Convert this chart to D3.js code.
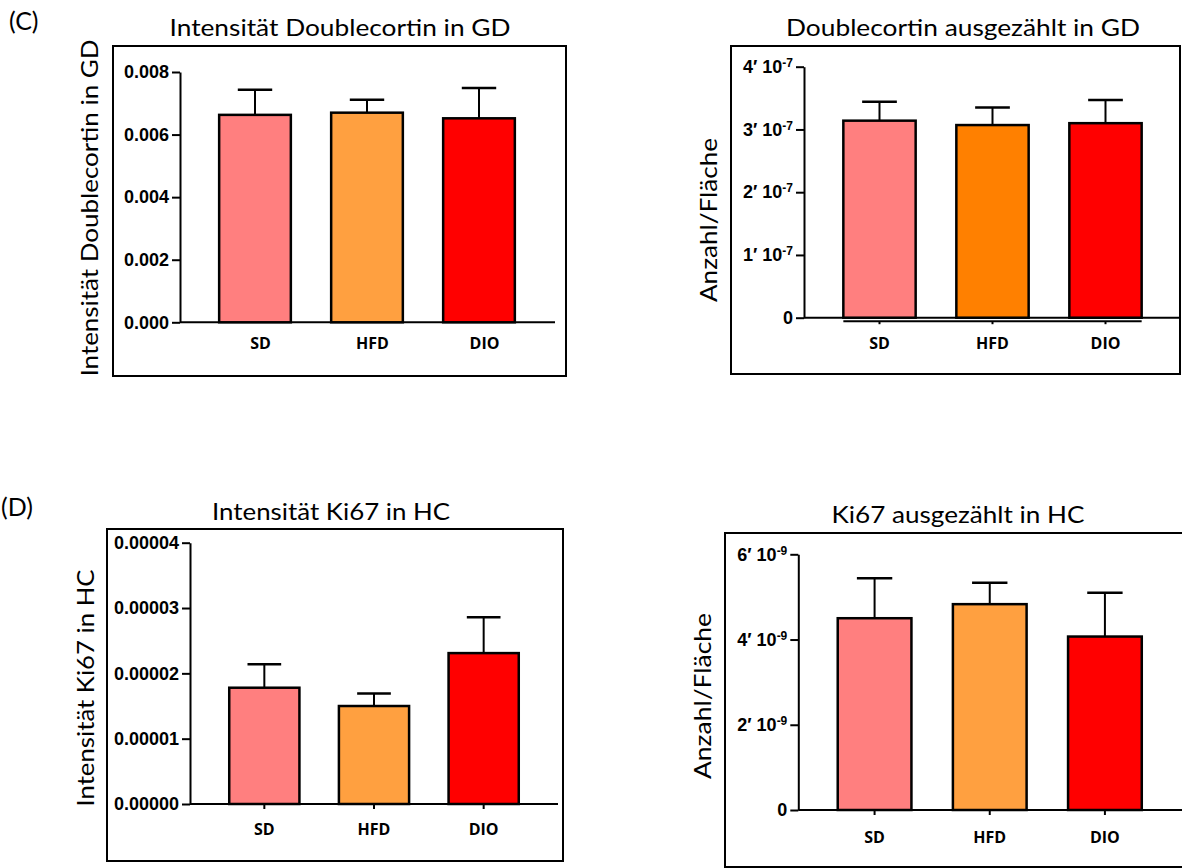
<!DOCTYPE html>
<html>
<head>
<meta charset="utf-8">
<script src="https://cdn.jsdelivr.net/npm/d3@7"></script>
<style>
  html, body { margin: 0; padding: 0; background: #fff; }
  svg { display: block; }
</style>
</head>
<body>
<svg id="fig" width="1182" height="868"></svg>
<script>
// Groups
const categories = ["SD", "HFD", "DIO"];

// Doublecortin intensity in GD (mean, SEM)
const dcxIntensityMean = [0.00663, 0.00670, 0.00652];
const dcxIntensitySem  = [0.00080, 0.00041, 0.00097];
const dcxIntensityTicks = [0, 0.002, 0.004, 0.006, 0.008];

// Doublecortin cells counted per area in GD
const dcxCountMean = [3.14e-7, 3.07e-7, 3.10e-7];
const dcxCountSem  = [0.30e-7, 0.28e-7, 0.37e-7];
const dcxCountTicks = [0, 1e-7, 2e-7, 3e-7, 4e-7];

// Ki67 intensity in HC
const ki67IntensityMean = [1.78e-5, 1.50e-5, 2.31e-5];
const ki67IntensitySem  = [0.36e-5, 0.19e-5, 0.55e-5];
const ki67IntensityTicks = [0, 1e-5, 2e-5, 3e-5, 4e-5];

// Ki67 cells counted per area in HC
const ki67CountMean = [4.50e-9, 4.83e-9, 4.07e-9];
const ki67CountSem  = [0.94e-9, 0.50e-9, 1.03e-9];
const ki67CountTicks = [0, 2e-9, 4e-9, 6e-9];

const groupColors    = ["#FF7F7F", "#FFA040", "#FF0000"];
const groupColorsAlt = ["#FF7F7F", "#FF8000", "#FF0000"];

const TITLE_FONT = "Lato, 'Open Sans', sans-serif";
const TICK_FONT  = "'Liberation Sans', Arial, sans-serif";
const CAT_FONT   = "'Open Sans', 'Noto Sans', sans-serif";
const TITLE_SIZE = 24;

const svg = d3.select("#fig");

// Panel letters
svg.append("text").attr("x", 9).attr("y", 30)
  .attr("font-family", TITLE_FONT).attr("font-size", 25).text("(C)");
svg.append("text").attr("x", 1).attr("y", 516)
  .attr("font-family", TITLE_FONT).attr("font-size", 25).text("(D)");

const panels = [
  {
    title: "Intensität Doublecortin in GD", titleX: 340, titleY: 36, titleW: 341,
    yLabel: "Intensität Doublecortin in GD", yLabelX: 88, yLabelY: 208, yLabelW: 337,
    frame: [113, 46, 566, 376], axisX: 180, xAxisEnd: 555,
    yRange: [322.3, 72], xRange: [199, 535],
    mean: dcxIntensityMean, sem: dcxIntensitySem, ticks: dcxIntensityTicks,
    format: d3.format(".3f"), exponent: null, colors: groupColors,
    labelDx: 5.5, labelY: 348.5, catTicks: false, underLine: false
  },
  {
    title: "Doublecortin ausgezählt in GD", titleX: 963, titleY: 36, titleW: 354,
    yLabel: "Anzahl/Fläche", yLabelX: 707, yLabelY: 220, yLabelW: 164,
    frame: [731, 46, 1180, 374], axisX: 804, xAxisEnd: 1180,
    yRange: [317.7, 66.7], xRange: [823, 1162],
    mean: dcxCountMean, sem: dcxCountSem, ticks: dcxCountTicks,
    format: null, exponent: -7, colors: groupColorsAlt,
    labelDx: 0, labelY: 349, catTicks: false, underLine: true
  },
  {
    title: "Intensität Ki67 in HC", titleX: 331, titleY: 520, titleW: 238,
    yLabel: "Intensität Ki67 in HC", yLabelX: 84, yLabelY: 688, yLabelW: 237,
    frame: [107, 529, 563, 861], axisX: 190, xAxisEnd: 558,
    yRange: [804, 542.7], xRange: [209.5, 538.5],
    mean: ki67IntensityMean, sem: ki67IntensitySem, ticks: ki67IntensityTicks,
    format: d3.format(".5f"), exponent: null, colors: groupColors,
    labelDx: 0, labelY: 835, catTicks: true, underLine: false
  },
  {
    title: "Ki67 ausgezählt in HC", titleX: 958, titleY: 523, titleW: 253,
    yLabel: "Anzahl/Fläche", yLabelX: 701, yLabelY: 696, yLabelW: 166,
    frame: [725, 533, 1192, 867], axisX: 798.3, xAxisEnd: 1182,
    yRange: [810, 554.3], xRange: [817, 1162.5],
    mean: ki67CountMean, sem: ki67CountSem, ticks: ki67CountTicks,
    format: null, exponent: -9, colors: groupColors,
    labelDx: 0, labelY: 843, catTicks: true, underLine: false
  }
];

panels.forEach(p => {
  const g = svg.append("g");
  const rows = categories.map((c, i) => ({ cat: c, mean: p.mean[i], sem: p.sem[i], color: p.colors[i] }));

  const y = d3.scaleLinear().domain([0, d3.max(p.ticks)]).range(p.yRange);
  const x = d3.scaleBand().domain(categories).range(p.xRange)
    .paddingInner(0.36).paddingOuter(0.18);
  const bw = x.bandwidth();
  const y0 = y(0);

  // Frame
  const [fx1, fy1, fx2, fy2] = p.frame;
  g.append("rect").attr("x", fx1).attr("y", fy1)
    .attr("width", fx2 - fx1).attr("height", fy2 - fy1)
    .attr("fill", "none").attr("stroke", "#000").attr("stroke-width", 2);

  // Title
  g.append("text").attr("x", p.titleX).attr("y", p.titleY)
    .attr("text-anchor", "middle").attr("font-family", TITLE_FONT).attr("font-size", TITLE_SIZE)
    .attr("textLength", p.titleW).attr("lengthAdjust", "spacingAndGlyphs")
    .text(p.title);

  // Y axis label
  g.append("text")
    .attr("transform", `translate(${p.yLabelX},${p.yLabelY}) rotate(-90)`)
    .attr("text-anchor", "middle").attr("dominant-baseline", "central")
    .attr("font-family", TITLE_FONT).attr("font-size", TITLE_SIZE)
    .attr("textLength", p.yLabelW).attr("lengthAdjust", "spacingAndGlyphs")
    .text(p.yLabel);

  // X axis baseline
  g.append("line").attr("x1", p.axisX).attr("x2", p.xAxisEnd)
    .attr("y1", y0).attr("y2", y0).attr("stroke", "#000").attr("stroke-width", 2);

  if (p.underLine) {
    const first = x(categories[0]), last = x(categories[categories.length - 1]) + bw;
    g.append("line").attr("x1", first).attr("x2", last)
      .attr("y1", y0 + 3.5).attr("y2", y0 + 3.5).attr("stroke", "#000").attr("stroke-width", 2);
    g.selectAll(".ctick").data(categories).join("line")
      .attr("x1", d => x(d) + bw / 2).attr("x2", d => x(d) + bw / 2)
      .attr("y1", y0 + 3.5).attr("y2", y0 + 6.5).attr("stroke", "#000").attr("stroke-width", 2);
  }
  if (p.catTicks) {
    g.selectAll(".ctick").data(categories).join("line")
      .attr("x1", d => x(d) + bw / 2).attr("x2", d => x(d) + bw / 2)
      .attr("y1", y0).attr("y2", y0 + 5).attr("stroke", "#000").attr("stroke-width", 2);
  }

  // Y axis
  const axis = d3.axisLeft(y).tickValues(p.ticks).tickSize(8).tickSizeOuter(0).tickPadding(3);
  if (p.format) axis.tickFormat(p.format);
  const ag = g.append("g").attr("transform", `translate(${p.axisX},0)`).call(axis);
  ag.select(".domain").attr("stroke", "#000").attr("stroke-width", 2);
  ag.selectAll(".tick line").attr("stroke", "#000").attr("stroke-width", 2);
  ag.selectAll(".tick text")
    .attr("font-family", TICK_FONT).attr("font-size", 18).attr("font-weight", "bold")
    .attr("fill", "#000");

  if (p.exponent !== null) {
    const base = Math.pow(10, p.exponent);
    ag.selectAll(".tick text").each(function(d) {
      const t = d3.select(this);
      t.text(null);
      if (d === 0) { t.text("0"); return; }
      const k = Math.round(d / base);
      t.append("tspan").text(`${k}\u2032 10`);
      t.append("tspan").attr("font-size", 12).attr("dy", "-0.5em").text(`${p.exponent}`);
    });
  }

  // Bars
  g.selectAll(".bar").data(rows).join("rect")
    .attr("x", d => x(d.cat)).attr("width", bw)
    .attr("y", d => y(d.mean)).attr("height", d => y0 - y(d.mean))
    .attr("fill", d => d.color).attr("stroke", "#000").attr("stroke-width", 2.5);

  // Error bars (upper SEM)
  const capW = bw * 0.48;
  g.selectAll(".err").data(rows).join("line")
    .attr("x1", d => x(d.cat) + bw / 2).attr("x2", d => x(d.cat) + bw / 2)
    .attr("y1", d => y(d.mean)).attr("y2", d => y(d.mean + d.sem))
    .attr("stroke", "#000").attr("stroke-width", 2);
  g.selectAll(".cap").data(rows).join("line")
    .attr("x1", d => x(d.cat) + bw / 2 - capW / 2).attr("x2", d => x(d.cat) + bw / 2 + capW / 2)
    .attr("y1", d => y(d.mean + d.sem)).attr("y2", d => y(d.mean + d.sem))
    .attr("stroke", "#000").attr("stroke-width", 2.5);

  // Category labels
  g.selectAll(".cat").data(rows).join("text")
    .attr("x", d => x(d.cat) + bw / 2 + p.labelDx).attr("y", p.labelY)
    .attr("text-anchor", "middle").attr("font-family", CAT_FONT)
    .attr("font-size", 16).attr("font-weight", "bold").text(d => d.cat);
});
</script>
</body>
</html>
